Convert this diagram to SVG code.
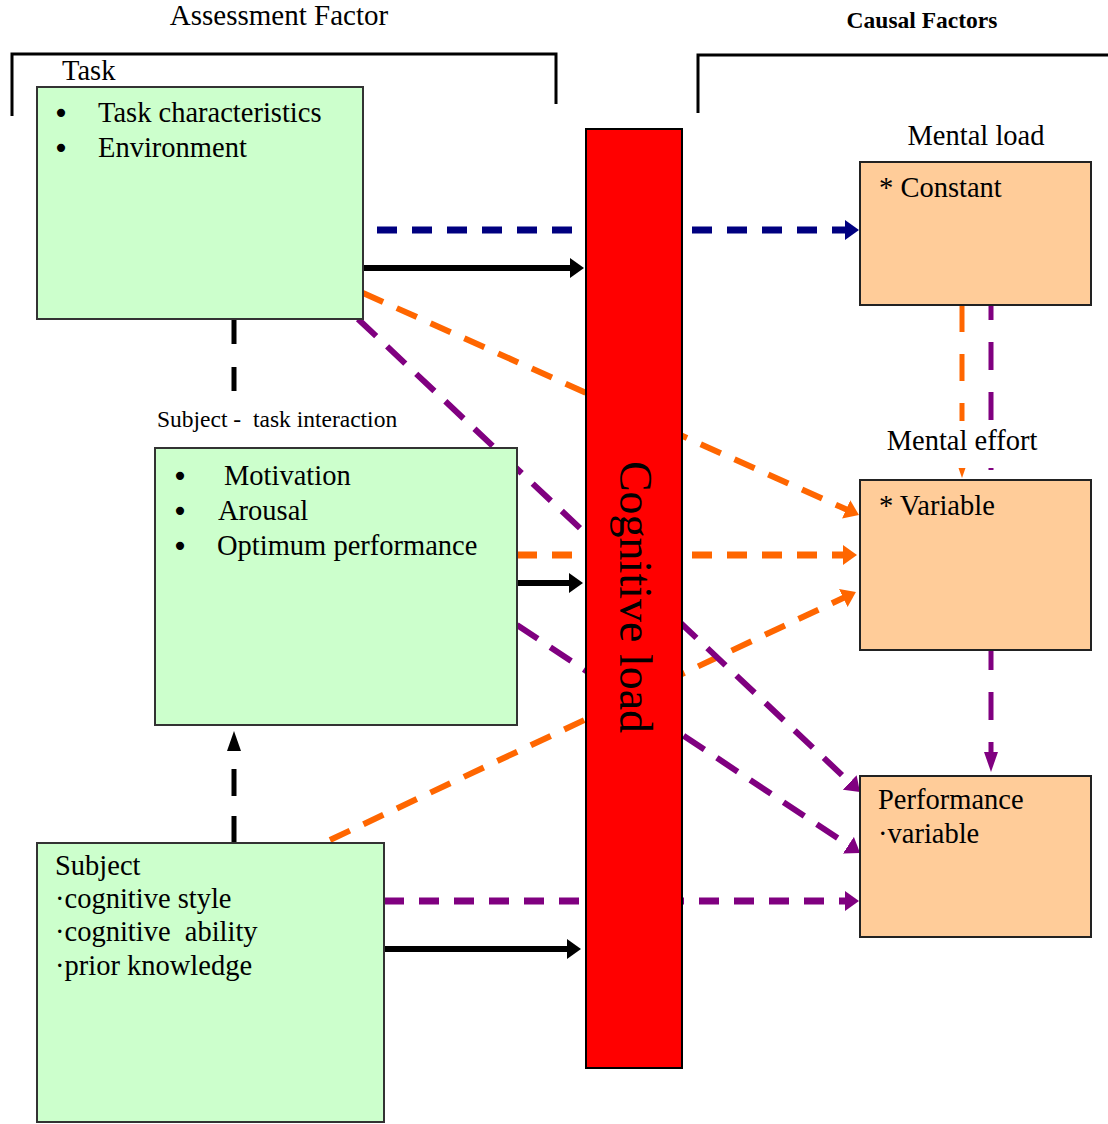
<svg xmlns="http://www.w3.org/2000/svg" width="1108" height="1124" viewBox="0 0 1108 1124">
<style>
text{font-family:"Liberation Serif","Times New Roman",serif;fill:#000;white-space:pre}
.t{font-size:28.5px}
.bul{font-family:"DejaVu Sans",sans-serif;font-size:28px;text-anchor:middle}
.green{fill:#CCFFCC;stroke:#333;stroke-width:2}
.peach{fill:#FFCC99;stroke:#222;stroke-width:2}
.bracket{fill:none;stroke:#000;stroke-width:3}
.solid{stroke:#000;stroke-width:6;fill:none}
.hd{stroke-width:7;stroke-dasharray:20 15;fill:none}
.navy{stroke:#000080}
.orange{stroke:#FF6600}
.purple{stroke:#800080}
.black{stroke:#000}
</style>
<defs>
<marker id="hBlack" viewBox="0 0 14 20" markerWidth="14" markerHeight="20" refX="1" refY="10" orient="auto" markerUnits="userSpaceOnUse"><path d="M0,0 L14,10 L0,20 z" fill="#000"/></marker>
<marker id="hNavy" viewBox="0 0 14 20" markerWidth="14" markerHeight="20" refX="1" refY="10" orient="auto" markerUnits="userSpaceOnUse"><path d="M0,0 L14,10 L0,20 z" fill="#000080"/></marker>
<marker id="hOrange" viewBox="0 0 14 20" markerWidth="14" markerHeight="20" refX="1" refY="10" orient="auto" markerUnits="userSpaceOnUse"><path d="M0,0 L14,10 L0,20 z" fill="#FF6600"/></marker>
<marker id="hPurple" viewBox="0 0 14 20" markerWidth="14" markerHeight="20" refX="1" refY="10" orient="auto" markerUnits="userSpaceOnUse"><path d="M0,0 L14,10 L0,20 z" fill="#800080"/></marker>
<marker id="vBlack" viewBox="0 0 20 14" markerWidth="20" markerHeight="14" refX="1" refY="7" orient="auto" markerUnits="userSpaceOnUse"><path d="M0,0 L20,7 L0,14 z" fill="#000"/></marker>
<marker id="vOrange" viewBox="0 0 20 14" markerWidth="20" markerHeight="14" refX="1" refY="7" orient="auto" markerUnits="userSpaceOnUse"><path d="M0,0 L20,7 L0,14 z" fill="#FF6600"/></marker>
<marker id="vPurple" viewBox="0 0 20 14" markerWidth="20" markerHeight="14" refX="1" refY="7" orient="auto" markerUnits="userSpaceOnUse"><path d="M0,0 L20,7 L0,14 z" fill="#800080"/></marker>
</defs>
<rect width="1108" height="1124" fill="#fff"/>

<g id="headers">
<text x="279" y="25" style="font-size:29px" text-anchor="middle">Assessment Factor</text>
<path class="bracket" d="M12,116 V54 H556 V104"/>
<text x="922" y="28" style="font-size:23.5px;font-weight:bold" text-anchor="middle">Causal Factors</text>
<path class="bracket" d="M698,113 V55 H1108"/>
</g>

<g id="connectors">
<line x1="234" y1="320" x2="234" y2="393" stroke="#000" stroke-width="5" stroke-dasharray="24 23"/>
<line x1="234" y1="843" x2="234" y2="750" stroke="#000" stroke-width="5" stroke-dasharray="27 20" marker-end="url(#vBlack)"/>
<line class="solid" x1="363" y1="268" x2="571" y2="268" marker-end="url(#hBlack)"/>
<line class="solid" x1="517" y1="583" x2="570" y2="583" marker-end="url(#hBlack)"/>
<line class="solid" x1="384" y1="949" x2="568" y2="949" marker-end="url(#hBlack)"/>
<line class="hd navy" x1="377" y1="230" x2="846" y2="230" marker-end="url(#hNavy)"/>
<line class="orange" x1="363" y1="293" x2="847.1" y2="509.7" stroke-width="6" stroke-dasharray="22 15" marker-end="url(#hOrange)"/>
<line class="hd orange" x1="517" y1="555" x2="844" y2="555" marker-end="url(#hOrange)"/>
<line class="orange" x1="330" y1="840" x2="844.2" y2="597.5" stroke-width="6" stroke-dasharray="22 15" marker-end="url(#hOrange)"/>
<line class="orange" x1="962" y1="305" x2="962" y2="459" stroke-width="5" stroke-dasharray="27 22" marker-end="url(#vOrange)"/>
<line class="purple" x1="358" y1="319" x2="850.5" y2="783.1" stroke-width="6" stroke-dasharray="25 15" marker-end="url(#hPurple)"/>
<line class="purple" x1="517" y1="625" x2="849.2" y2="845.8" stroke-width="6" stroke-dasharray="25 15" marker-end="url(#hPurple)"/>
<line class="hd purple" x1="384" y1="901" x2="846" y2="901" marker-end="url(#hPurple)"/>
<line class="purple" x1="991" y1="305" x2="991" y2="753" stroke-width="5" stroke-dasharray="28 22" stroke-dashoffset="13" marker-end="url(#vPurple)"/>
</g>

<g id="cognitive-load">
<rect x="586" y="129" width="96" height="939" fill="#FF0000" stroke="#000" stroke-width="2"/>
<text transform="translate(620,597) rotate(90)" style="font-size:46px" text-anchor="middle">Cognitive load</text>
</g>

<g id="task">
<text class="t" x="62" y="80">Task</text>
<rect class="green" x="37" y="87" width="326" height="232"/>
<text class="bul" x="61" y="123">•</text>
<text class="t" x="98" y="122">Task characteristics</text>
<text class="bul" x="61" y="158">•</text>
<text class="t" x="98" y="157">Environment</text>
</g>

<g id="subject-task-interaction">
<text x="157" y="427" style="font-size:23.5px">Subject -  task interaction</text>
<rect class="green" x="155" y="448" width="362" height="277"/>
<text class="bul" x="180" y="486">•</text>
<text class="t" x="224" y="485">Motivation</text>
<text class="bul" x="180" y="521">•</text>
<text class="t" x="218" y="520">Arousal</text>
<text class="bul" x="180" y="556">•</text>
<text class="t" x="217" y="555">Optimum performance</text>
</g>

<g id="subject">
<rect class="green" x="37" y="843" width="347" height="279"/>
<text class="t" x="55" y="875">Subject</text>
<text class="t" x="55" y="908">·cognitive style</text>
<text class="t" x="55" y="941">·cognitive  ability</text>
<text class="t" x="55" y="975">·prior knowledge</text>
</g>

<g id="mental-load">
<text class="t" x="976" y="145" text-anchor="middle">Mental load</text>
<rect class="peach" x="860" y="162" width="231" height="143"/>
<text class="t" x="879" y="197">* Constant</text>
</g>

<g id="mental-effort">
<rect x="884" y="421" width="158" height="47" fill="#fff"/>
<text class="t" x="962" y="450" text-anchor="middle">Mental effort</text>
<rect class="peach" x="860" y="480" width="231" height="170"/>
<text class="t" x="879" y="515">* Variable</text>
</g>

<g id="performance">
<rect class="peach" x="860" y="776" width="231" height="161"/>
<text class="t" x="878" y="809">Performance</text>
<text class="t" x="878" y="843">·variable</text>
</g>
</svg>
